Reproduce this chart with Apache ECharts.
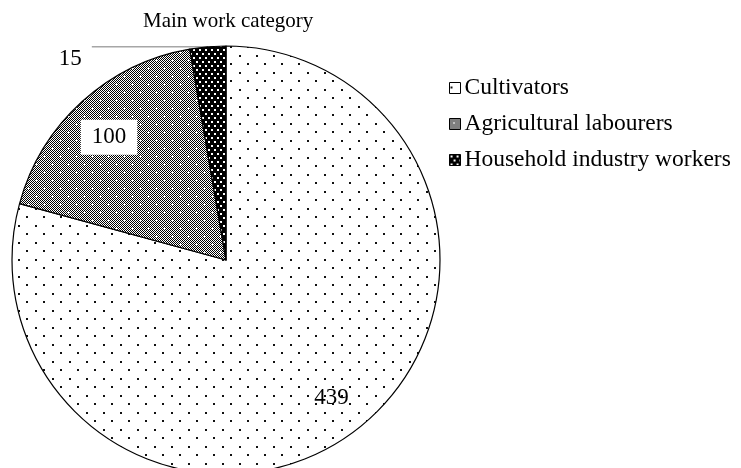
<!DOCTYPE html>
<html>
<head>
<meta charset="utf-8">
<script src="https://cdn.jsdelivr.net/npm/echarts@6/dist/echarts.min.js"></script>
<style>
  html, body { margin: 0; padding: 0; background: #fff; }
  #main { width: 741px; height: 468px; }
</style>
</head>
<body>
<div id="main"></div>
<script>
var categories = ['Cultivators', 'Agricultural labourers', 'Household industry workers'];
var values = [439, 100, 15];
var titleText = 'Main work category';

var FONT = '"Liberation Serif", "Times New Roman", serif';

// pattern tiles, roughly like the Excel fills
function dotsTile() {
  var c = document.createElement('canvas');
  c.width = 17; c.height = 17;
  var ctx = c.getContext('2d');
  ctx.fillStyle = '#fff';
  ctx.fillRect(0, 0, 17, 17);
  ctx.fillStyle = '#111';
  ctx.fillRect(1, 4, 2, 2);
  ctx.fillRect(9, 12, 2, 2);
  return c;
}
function checkTile() {
  var c = document.createElement('canvas');
  c.width = 16; c.height = 16;
  var ctx = c.getContext('2d');
  ctx.fillStyle = '#fff';
  ctx.fillRect(0, 0, 16, 16);
  ctx.fillStyle = '#000';
  for (var y = 0; y < 16; y++) {
    for (var x = 0; x < 16; x++) {
      if ((x + y) % 2 === 0) ctx.fillRect(x, y, 1, 1);
    }
  }
  ctx.fillStyle = '#fff';
  [[4, 4], [12, 12]].forEach(function (p) {
    ctx.fillRect(p[0] - 1, p[1], 3, 1);
    ctx.fillRect(p[0], p[1] - 1, 1, 3);
  });
  return c;
}
function blackDotsTile() {
  var c = document.createElement('canvas');
  c.width = 6; c.height = 8;
  var ctx = c.getContext('2d');
  ctx.fillStyle = '#000';
  ctx.fillRect(0, 0, 6, 8);
  ctx.fillStyle = '#fff';
  ctx.fillRect(1, 1, 2, 2);
  ctx.fillRect(4, 5, 2, 2);
  return c;
}

var fills = [
  { image: dotsTile(), repeat: 'repeat' },
  { image: checkTile(), repeat: 'repeat' },
  { image: blackDotsTile(), repeat: 'repeat' }
];

var mainData = categories.map(function (name, i) {
  return {
    name: name,
    value: values[i],
    itemStyle: { color: fills[i] },
    label: { show: i === 2 },
    labelLine: { show: i === 2 }
  };
});

var labelData = categories.map(function (name, i) {
  return {
    name: name,
    value: values[i],
    label: {
      show: i !== 2,
      backgroundColor: i === 1 ? '#fff' : 'transparent',
      padding: i === 1 ? [6, 11] : 0
    }
  };
});

var myChart = echarts.init(document.getElementById('main'), null, { renderer: 'canvas' });
var option = {
  animation: false,
  title: {
    text: titleText,
    left: 138,
    top: 6,
    textStyle: { fontFamily: FONT, fontSize: 21, fontWeight: 'normal', color: '#000' }
  },
  legend: {
    orient: 'vertical',
    left: 444,
    top: 71,
    itemWidth: 11,
    itemHeight: 11,
    itemGap: 12,
    icon: 'rect',
    data: categories,
    itemStyle: { borderColor: '#000', borderWidth: 1 },
    textStyle: { fontFamily: FONT, fontSize: 23.5, color: '#000', padding: [0, 0, 0, -1] }
  },
  series: [
    {
      name: 'main',
      type: 'pie',
      center: [226, 260],
      radius: [0, 214],
      startAngle: 90,
      clockwise: true,
      avoidLabelOverlap: false,
      itemStyle: { borderColor: '#000', borderWidth: 1.2 },
      label: {
        position: 'outside',
        distanceToLabelLine: 10,
        formatter: '{t|{c}}',
        rich: {
          t: { fontFamily: FONT, fontSize: 23, color: '#000', padding: [24, 0, 0, 0] }
        }
      },
      labelLine: {
        length: 0,
        length2: 116,
        smooth: false,
        lineStyle: { color: '#a6a6a6', width: 1.5 }
      },
      emphasis: { disabled: true },
      data: mainData
    },
    {
      name: 'labels',
      type: 'pie',
      center: [226, 260],
      radius: [128, 214],
      startAngle: 90,
      clockwise: true,
      silent: true,
      legendHoverLink: false,
      itemStyle: { color: 'rgba(0,0,0,0)', borderWidth: 0 },
      label: {
        position: 'inside',
        fontFamily: FONT,
        fontSize: 23,
        color: '#000',
        formatter: '{c}'
      },
      labelLayout: function (params) {
        // the boxed label sits a little lower in the original
        return params.dataIndex === 1 ? { dy: 6 } : {};
      },
      labelLine: { show: false },
      emphasis: { disabled: true },
      data: labelData
    }
  ]
};
myChart.setOption(option);
</script>
</body>
</html>
